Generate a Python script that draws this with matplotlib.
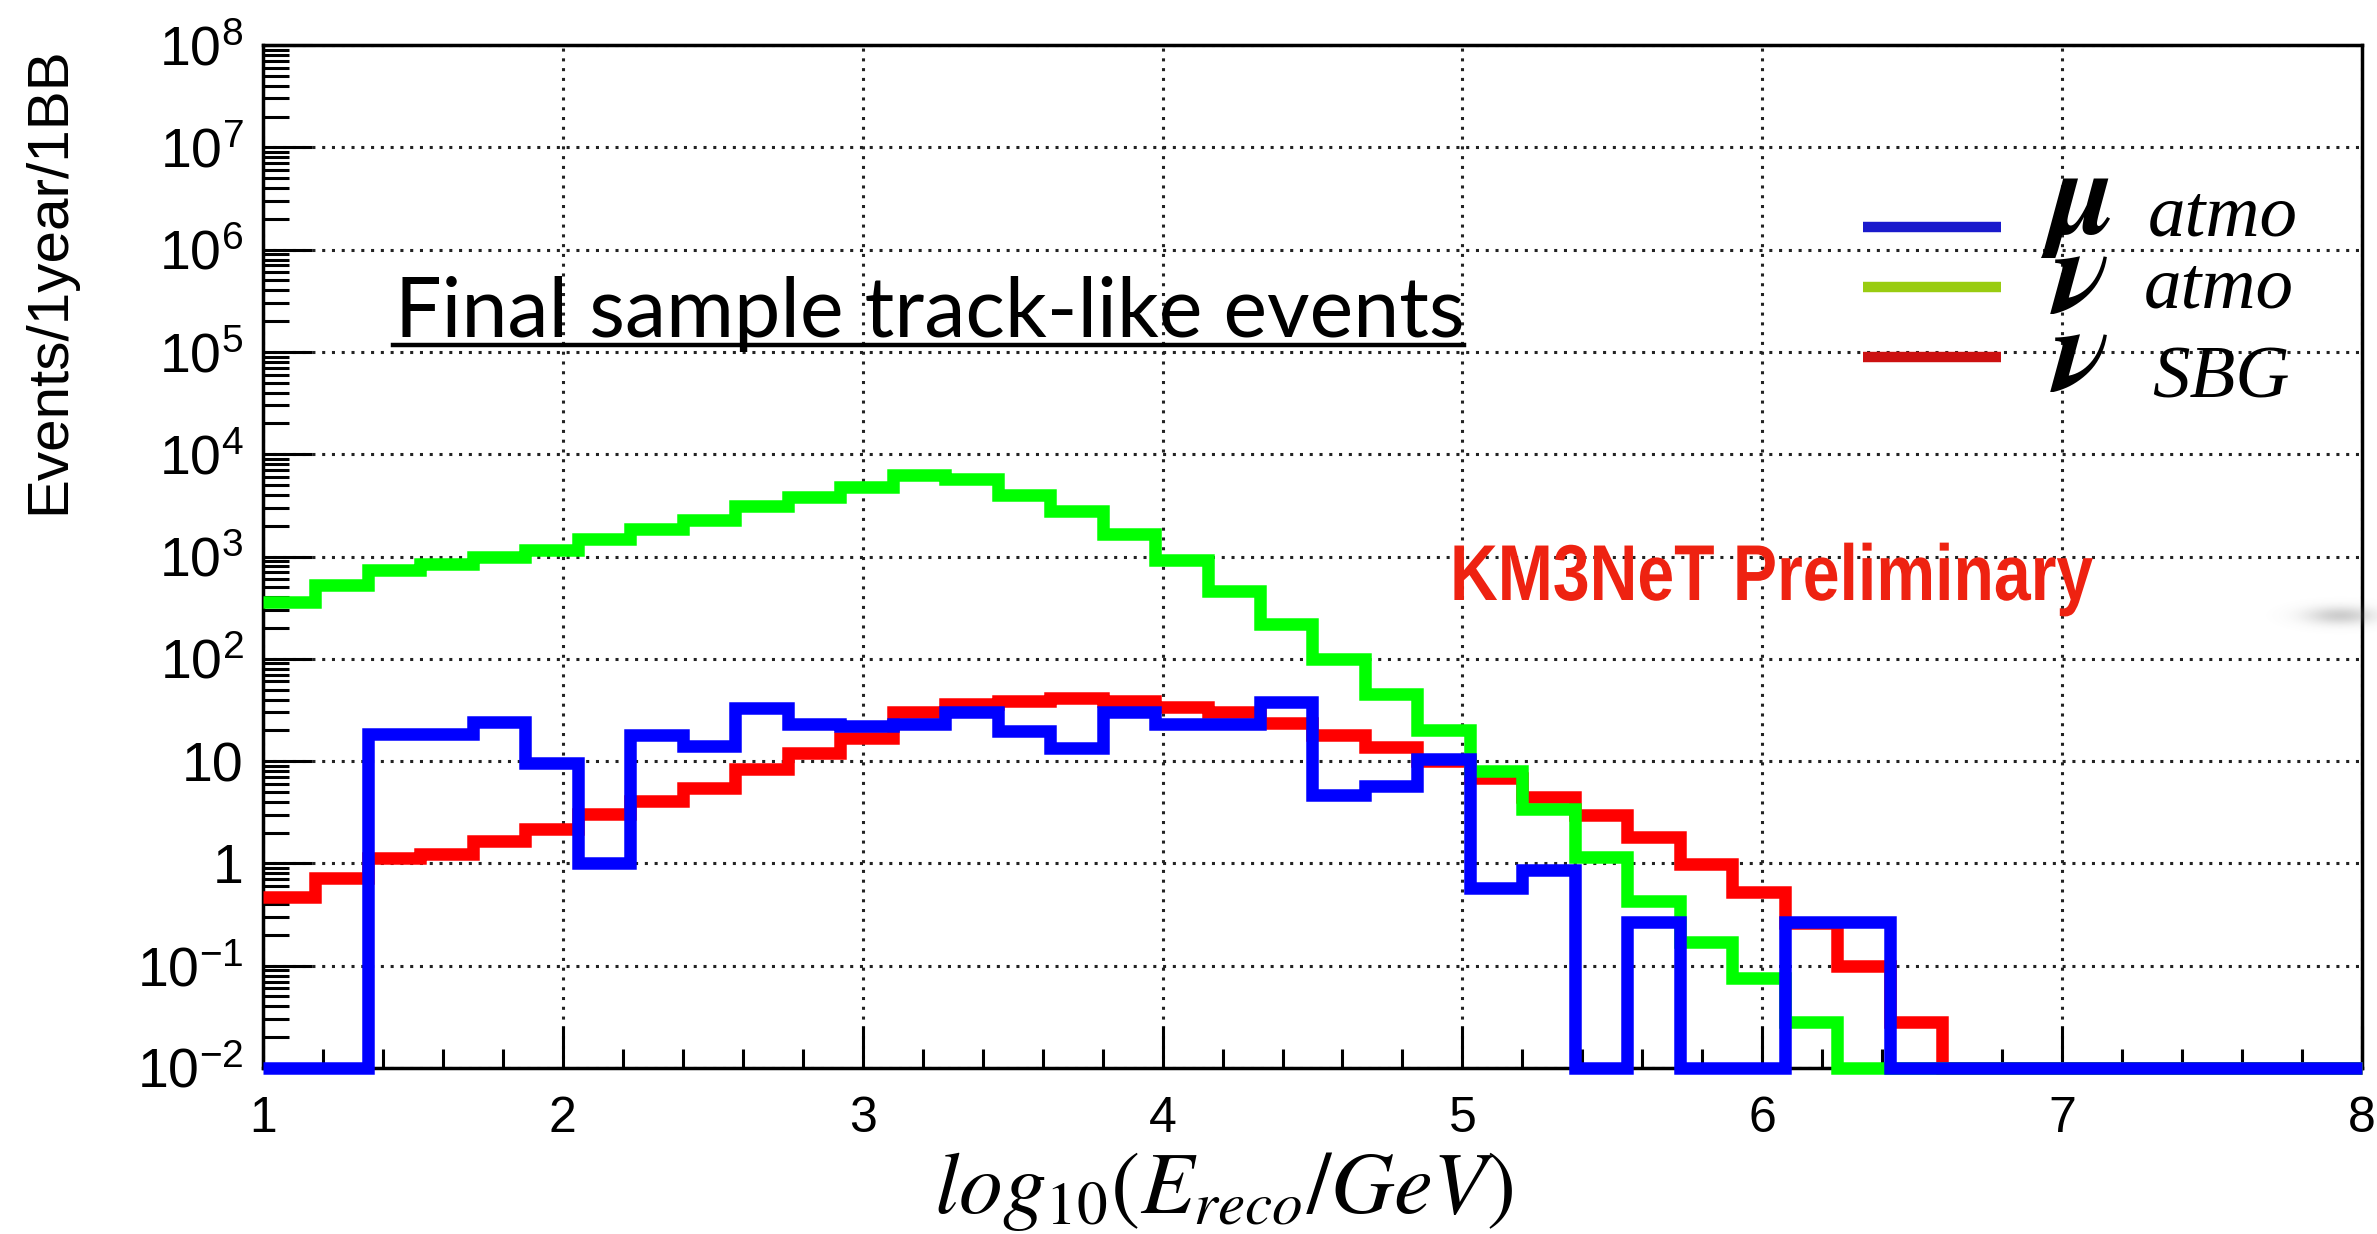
import numpy as np
import matplotlib
matplotlib.use("Agg")
import matplotlib.pyplot as plt
from matplotlib.lines import Line2D
from matplotlib.ticker import FixedLocator, LogLocator, NullFormatter
from matplotlib.transforms import Affine2D
import matplotlib.patheffects as pe

# 40 bins in log10(E_reco/GeV), from 1 to 8
bin_edges = np.linspace(1.0, 8.0, 41)

nu_atmo = [360, 525, 745, 840, 990, 1170, 1480, 1840, 2260, 3090,
           3800, 4800, 6300, 5700, 4000, 2800, 1670, 925, 456, 219,
           100, 45, 20, 8, 3.4, 1.16, 0.43, 0.17, 0.076, 0.028,
           0.01, 0.01, 0.01, 0.01, 0.01, 0.01, 0.01, 0.01, 0.01, 0.01]

nu_sbg = [0.47, 0.72, 1.12, 1.23, 1.64, 2.17, 3.05, 4.1, 5.5, 8.3,
          12, 17, 30, 36, 39, 41, 39, 34, 30, 23.4,
          18, 13.7, 10, 6.9, 4.5, 3.0, 1.8, 0.98, 0.53, 0.26,
          0.1, 0.028, 0.01, 0.01, 0.01, 0.01, 0.01, 0.01, 0.01, 0.01]

mu_atmo = [0.01, 0.01, 18.6, 18.6, 24, 9.5, 1.0, 18, 14, 33,
           23, 22, 23, 30, 19.5, 13.4, 30, 23, 23, 38,
           4.7, 5.7, 10.5, 0.57, 0.87, 0.01, 0.27, 0.01, 0.01, 0.27,
           0.27, 0.01, 0.01, 0.01, 0.01, 0.01, 0.01, 0.01, 0.01, 0.01]

y_exponents = [-2, -1, 0, 1, 2, 3, 4, 5, 6, 7, 8]
y_labels = [r"$\mathdefault{10^{-2}}$", r"$\mathdefault{10^{-1}}$", "1", "10",
            r"$\mathdefault{10^{2}}$", r"$\mathdefault{10^{3}}$", r"$\mathdefault{10^{4}}$",
            r"$\mathdefault{10^{5}}$", r"$\mathdefault{10^{6}}$", r"$\mathdefault{10^{7}}$",
            r"$\mathdefault{10^{8}}$"]


class Squeeze(pe.AbstractPathEffect):
    # narrows a text horizontally around x0 (pixels), for a condensed look
    def __init__(self, sx, x0):
        super().__init__()
        self._t = Affine2D().translate(-x0, 0).scale(sx, 1).translate(x0, 0)

    def draw_path(self, renderer, gc, tpath, affine, rgbFace=None):
        renderer.draw_path(gc, tpath, affine + self._t, rgbFace)


W, H = 2377, 1234
plt.rcParams["font.family"] = ["Liberation Sans", "DejaVu Sans"]

fig = plt.figure(figsize=(W / 100, H / 100), dpi=100)
ax = fig.add_axes([263 / W, 1 - 1068 / H, (2362 - 263) / W, (1068 - 45) / H])

def fx(px):
    return px / W

def fy(py):
    return 1 - py / H

lw_hist = 9
ax.stairs(nu_sbg, bin_edges, baseline=None, color="#ff0000", lw=lw_hist,
          joinstyle="miter", clip_on=False, zorder=4)
ax.stairs(nu_atmo, bin_edges, baseline=None, color="#00ff00", lw=lw_hist,
          joinstyle="miter", clip_on=False, zorder=5)
ax.stairs(mu_atmo, bin_edges, baseline=None, color="#0000ff", lw=lw_hist,
          joinstyle="miter", clip_on=False, zorder=6)

ax.set_yscale("log")
ax.set_xlim(1, 8)
ax.set_ylim(1e-2, 1e8)

ax.yaxis.set_major_locator(FixedLocator([10.0 ** e for e in y_exponents]))
ax.set_yticklabels(y_labels)
ax.yaxis.set_minor_locator(LogLocator(base=10, subs=np.arange(2, 10), numticks=100))
ax.yaxis.set_minor_formatter(NullFormatter())
ax.set_xticks(np.arange(1, 9))
ax.set_xticks(np.arange(1, 8.01, 0.2), minor=True)

ax.tick_params(axis="both", which="both", direction="in", top=False, right=False,
               width=2.2)
ax.tick_params(axis="y", which="major", length=35, pad=14, labelsize=40)
ax.tick_params(axis="y", which="minor", length=19)
ax.tick_params(axis="x", which="major", length=30, pad=20, labelsize=36)
ax.tick_params(axis="x", which="minor", length=14)

for s in ax.spines.values():
    s.set_linewidth(2.5)

ax.grid(True, which="major", color="#222222", lw=2.2, linestyle=(0, (1, 2.2)))
ax.set_axisbelow(True)

fig.text(fx(22), fy(280), "Events/1year/1BB", rotation=90, ha="left", va="center",
         fontsize=42)
fig.text(fx(1224), fy(1213), r"$log_{10}(E_{reco}/GeV)$", ha="center", va="baseline",
         fontsize=63, math_fontfamily="stix")

# title with underline
fig.text(fx(395), fy(337), "Final sample track-like events", ha="left",
         va="baseline", fontsize=59.5, family=["Lato", "DejaVu Sans"])
fig.add_artist(Line2D([fx(393), fx(1464)], [fy(345), fy(345)], color="black", lw=3.2))

km = fig.text(fx(1450), fy(600), "KM3NeT Preliminary", ha="left", va="baseline",
              fontsize=57, fontweight="bold", color="#ee2211")
fig.canvas.draw()
km_w = km.get_window_extent().width
km.set_path_effects([Squeeze(643 / km_w, 1450)])

# hand-made legend
leg_y = [227, 287, 357]
leg_col = ["#1a1acc", "#99cc11", "#cc1111"]
for yy, cc in zip(leg_y, leg_col):
    fig.add_artist(Line2D([fx(1863), fx(2001)], [fy(yy), fy(yy)], color=cc, lw=7.5,
                          solid_capstyle="butt"))

# the three greek symbols stacked as one block
fig.text(fx(2082), fy(282), "\u03bc\n\u03bd\n\u03bd", ha="center", va="center",
         ma="center", fontsize=88, family="STIXGeneral", style="italic",
         fontweight="bold", linespacing=0.63)
fig.text(fx(2148), fy(235), "atmo", ha="left", va="baseline", fontsize=54,
         family="Liberation Serif", style="italic")
fig.text(fx(2144), fy(307), "atmo", ha="left", va="baseline", fontsize=54,
         family="Liberation Serif", style="italic")
fig.text(fx(2152), fy(397), "SBG", ha="left", va="baseline", fontsize=54,
         family="Liberation Serif", style="italic")

# faint grey smear at the right edge of the original slide
yy, xx = np.mgrid[0:50, 0:170]
blob = np.zeros((50, 170, 4))
blob[..., :3] = 0.45
blob[..., 3] = 0.35 * np.exp(-((xx - 110) / 35.0) ** 2 - ((yy - 25) / 9.0) ** 2)
fig.figimage(blob, xo=2230, yo=H - 640, zorder=10)

fig.savefig("out.png", dpi=100)
